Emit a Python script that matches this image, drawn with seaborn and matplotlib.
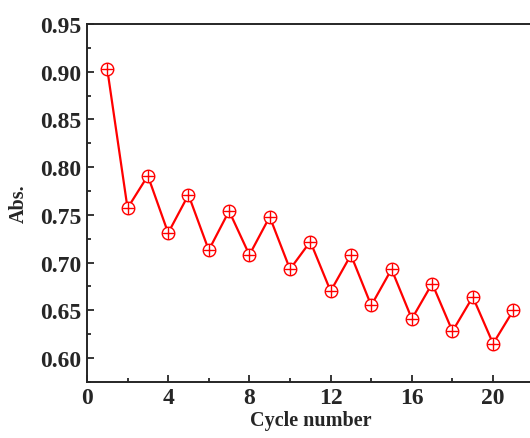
import numpy as np
import pandas as pd
import matplotlib
matplotlib.use('Agg')
import matplotlib.pyplot as plt
from matplotlib.ticker import MultipleLocator, FormatStrFormatter
import seaborn as sns

# ── Data ─────────────────────────────────────────────────
cycles = list(range(1, 22))
absorbance = [0.903, 0.757, 0.791, 0.731, 0.771, 0.713, 0.754, 0.708, 0.748,
              0.693, 0.722, 0.670, 0.708, 0.655, 0.693, 0.641, 0.678, 0.628,
              0.664, 0.615, 0.650]

df = pd.DataFrame({'cycle': cycles, 'abs': absorbance})

sns.set_style('ticks')
plt.rcParams['font.family'] = ['Liberation Serif', 'DejaVu Serif']
plt.rcParams['font.weight'] = 'bold'

fig = plt.figure(figsize=(5.30, 4.39), dpi=100)
# right spine sits just past the image edge, as in the reference
ax = fig.add_axes([0.164, 0.128, 0.843, 0.815])

sns.lineplot(data=df, x='cycle', y='abs', ax=ax, color='red', linewidth=1.6,
             marker='o', markersize=9, markerfacecolor='white',
             markeredgecolor='red', markeredgewidth=1.0)
# plus sign inside each circle
ax.plot(df['cycle'], df['abs'], linestyle='none', marker='+', markersize=9,
        markeredgecolor='red', markeredgewidth=1.0)

ax.set_xlim(0, 22)
ax.set_ylim(0.575, 0.95)
ax.xaxis.set_major_locator(MultipleLocator(4))
ax.xaxis.set_minor_locator(MultipleLocator(2))
ax.yaxis.set_major_locator(MultipleLocator(0.05))
ax.yaxis.set_minor_locator(MultipleLocator(0.025))
ax.yaxis.set_major_formatter(FormatStrFormatter('%.2f'))

ax.tick_params(which='both', direction='in', width=1.3, labelsize=17,
               top=False, right=False)
ax.tick_params(which='major', length=5, pad=4)
ax.tick_params(which='minor', length=3)
for lbl in ax.get_xticklabels() + ax.get_yticklabels():
    lbl.set_fontweight('bold')

for side in ['left', 'bottom', 'top', 'right']:
    ax.spines[side].set_visible(True)
    ax.spines[side].set_linewidth(1.4)

ax.set_xlabel('Cycle number', fontsize=14.5, fontweight='bold', labelpad=1)
ax.set_ylabel('Abs.', fontsize=14.5, fontweight='bold', labelpad=8)

fig.savefig('out.png', dpi=100)
